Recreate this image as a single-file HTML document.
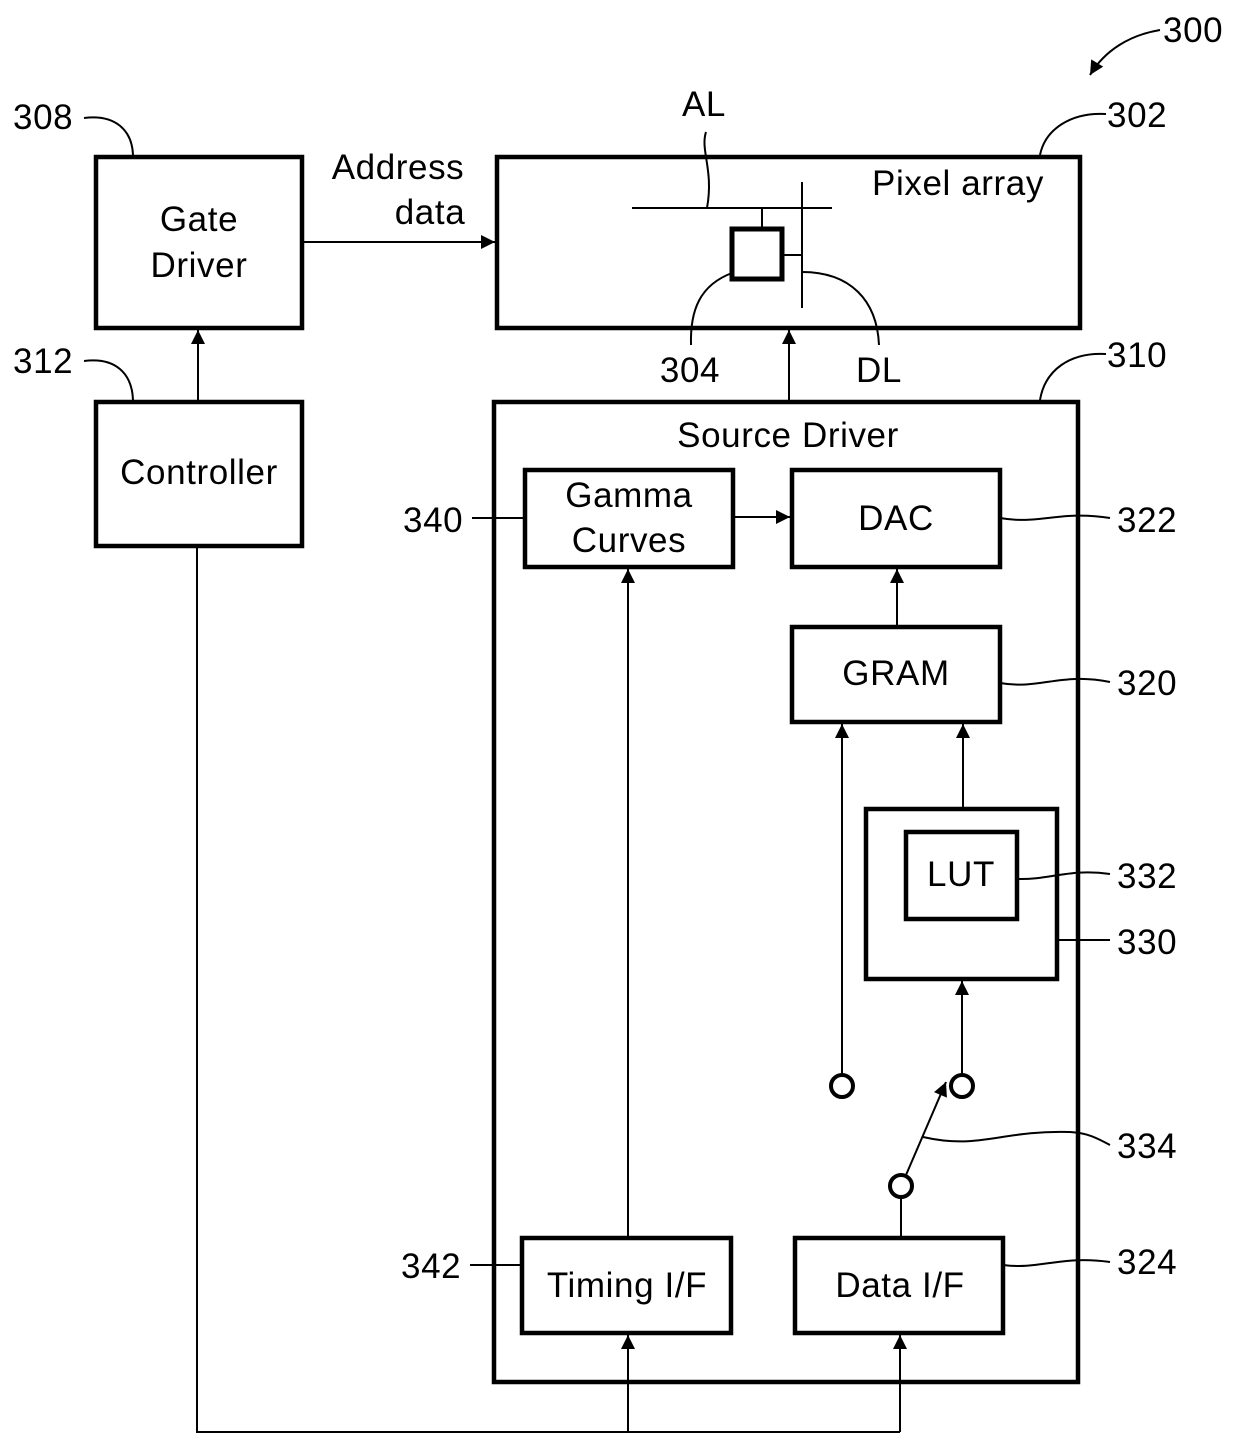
<!DOCTYPE html>
<html><head><meta charset="utf-8"><style>
html,body{margin:0;padding:0;background:#fff}
svg{display:block}
text{font-family:"Liberation Sans",Arial,sans-serif;font-size:35px;letter-spacing:0.6px;fill:#000}
</style></head><body>
<svg width="1240" height="1449" viewBox="0 0 1240 1449" xmlns="http://www.w3.org/2000/svg">
<defs>
<marker id="b" viewBox="0 0 10 10" refX="10" refY="5" markerWidth="20" markerHeight="14" markerUnits="userSpaceOnUse" orient="auto"><path d="M0,0 L10,5 L0,10 z" fill="#000"/></marker>
</defs>
<g fill="none" stroke="#000" stroke-width="4.5">
<rect x="96" y="157" width="206" height="171"/>
<rect x="96" y="402" width="206" height="144"/>
<rect x="497" y="157" width="583" height="171"/>
<rect x="494" y="402" width="584" height="980"/>
<rect x="525" y="470" width="208" height="97"/>
<rect x="792" y="470" width="208" height="97"/>
<rect x="792" y="627" width="208" height="95"/>
<rect x="866" y="809" width="191" height="170"/>
<rect x="906" y="832" width="111" height="87"/>
<rect x="522" y="1238" width="209" height="95"/>
<rect x="795" y="1238" width="208" height="95"/>
<rect x="732" y="229" width="50" height="50" stroke-width="5"/>
<circle cx="842" cy="1086" r="11" stroke-width="4"/>
<circle cx="962" cy="1086" r="11" stroke-width="4"/>
<circle cx="901" cy="1186" r="11" stroke-width="4"/>
</g>
<g fill="none" stroke="#000" stroke-width="2">
<line x1="198" y1="402" x2="198" y2="330" marker-end="url(#b)"/>
<line x1="302" y1="242" x2="495" y2="242" marker-end="url(#b)"/>
<line x1="789" y1="402" x2="789" y2="330" marker-end="url(#b)"/>
<polyline points="197,546 197,1432 900,1432"/>
<line x1="628" y1="1432" x2="628" y2="1335" marker-end="url(#b)"/>
<line x1="900" y1="1432" x2="900" y2="1335" marker-end="url(#b)"/>
<line x1="628" y1="1238" x2="628" y2="569" marker-end="url(#b)"/>
<line x1="733" y1="517" x2="790" y2="517" marker-end="url(#b)"/>
<line x1="897" y1="627" x2="897" y2="569" marker-end="url(#b)"/>
<line x1="963" y1="809" x2="963" y2="724" marker-end="url(#b)"/>
<line x1="842" y1="1075" x2="842" y2="724" marker-end="url(#b)"/>
<line x1="962" y1="1075" x2="962" y2="981" marker-end="url(#b)"/>
<line x1="901" y1="1197" x2="901" y2="1238"/>
<line x1="906" y1="1175" x2="946" y2="1082" marker-end="url(#b)"/>
<line x1="632" y1="208" x2="832" y2="208"/>
<line x1="762" y1="208" x2="762" y2="229"/>
<line x1="802" y1="182" x2="802" y2="308"/>
<line x1="782" y1="255" x2="802" y2="255"/>
<path d="M84,118 C115,114 132,130 133,155"/>
<path d="M84,361 C115,357 132,373 133,400"/>
<path d="M1106,114 C1070,112 1045,130 1040,155"/>
<path d="M1106,354 C1070,352 1045,370 1040,400"/>
<path d="M706,132 C700,150 714,170 707,208"/>
<path d="M732,273 C700,285 690,310 691,345"/>
<path d="M802,272 C850,272 877,300 879,345"/>
<path d="M472,518 L525,518"/>
<path d="M470,1265 L522,1265"/>
<path d="M1000,518 C1040,525 1060,510 1110,518"/>
<path d="M1000,683 C1040,690 1060,672 1110,682"/>
<path d="M1017,879 C1050,880 1070,868 1110,874"/>
<path d="M1057,940 L1110,940"/>
<path d="M923,1137 C980,1150 1000,1130 1070,1132 C1090,1133 1100,1140 1110,1145"/>
<path d="M1003,1265 C1040,1270 1060,1255 1110,1262"/>
<path d="M1160,30 C1130,35 1105,50 1090,75" marker-end="url(#b)"/>
</g>
<g text-anchor="middle">
<text x="199" y="231">Gate</text>
<text x="199" y="277">Driver</text>
<text x="199" y="484">Controller</text>
<text x="398" y="179">Address</text>
<text x="430" y="224">data</text>
<text x="958" y="195">Pixel array</text>
<text x="704" y="116">AL</text>
<text x="690" y="382">304</text>
<text x="879" y="382">DL</text>
<text x="788" y="447">Source Driver</text>
<text x="629" y="507">Gamma</text>
<text x="629" y="552">Curves</text>
<text x="896" y="530">DAC</text>
<text x="896" y="685">GRAM</text>
<text x="961" y="886">LUT</text>
<text x="627" y="1297">Timing I/F</text>
<text x="900" y="1297">Data I/F</text>
</g>
<g>
<text x="13" y="129">308</text>
<text x="13" y="373">312</text>
<text x="1163" y="42">300</text>
<text x="1107" y="127">302</text>
<text x="1107" y="367">310</text>
<text x="403" y="532">340</text>
<text x="401" y="1278">342</text>
<text x="1117" y="532">322</text>
<text x="1117" y="695">320</text>
<text x="1117" y="888">332</text>
<text x="1117" y="954">330</text>
<text x="1117" y="1158">334</text>
<text x="1117" y="1274">324</text>
</g>
</svg>
</body></html>
